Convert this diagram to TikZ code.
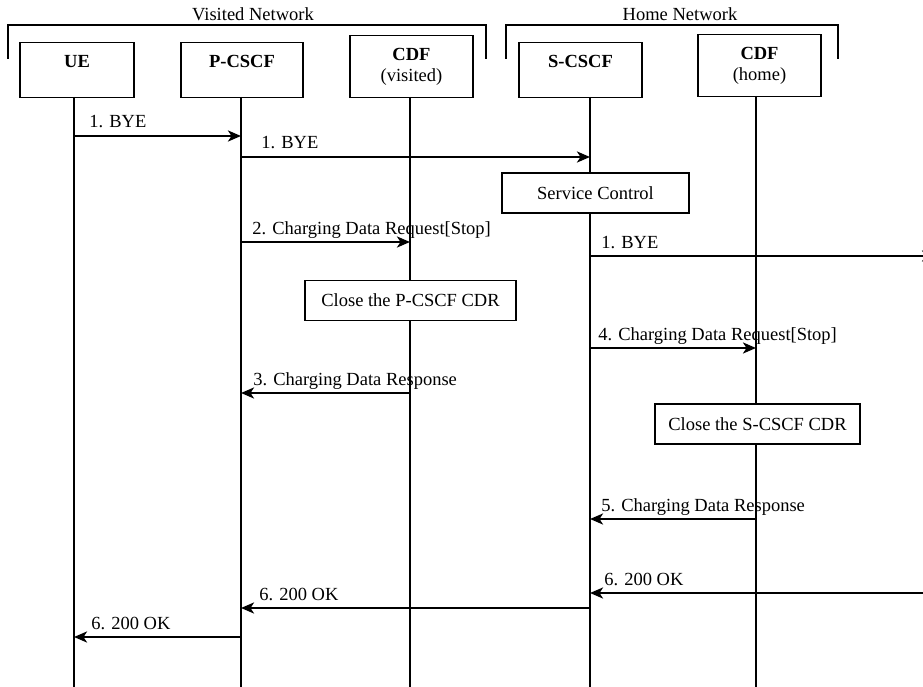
\documentclass[tikz,border=0pt]{standalone}
\usepackage{fontspec}
\setmainfont{Liberation Serif}
\usetikzlibrary{arrows.meta,positioning}

\begin{document}
\begin{tikzpicture}[x=1pt,y=-1pt,font=\fontsize{18.5}{20}\selectfont,
      >={Stealth[length=13pt,width=11pt,inset=3.5pt]},
      ent/.style={draw,line width=1.5pt,anchor=north,inner sep=0pt,align=center},
      single/.style={text height=25pt,text depth=30pt},
      act/.style={draw,line width=1.5pt,fill=white,inner sep=0pt,minimum height=40pt},
      life/.style={line width=1.6pt},
      msg/.style={->,line width=2.6pt},
      lbl/.style={anchor=base west,inner sep=0pt,xshift=#1,yshift=8pt},
      lbl/.default=12pt,
      net/.style={line width=1.8pt}]
  \useasboundingbox (0,0) rectangle (923,687);

  % network brackets
  \draw[net] (8,59) |- (486,25) -- (486,59);
  \draw[net] (506,59) |- (838,25) -- (838,59);
  \node[anchor=base] (visnet) at (253,21) {Visited Network};
  \node[anchor=base] (homenet) at (680,21) {Home Network};

  % entities
  \node[ent,single,minimum width=114pt] (ue) at (77,42) {\textbf{UE}};
  \node[ent,single,minimum width=122pt] (pcscf) at (242,42) {\textbf{P-CSCF}};
  \node[ent,minimum width=123pt,minimum height=62pt] (cdfv) at (411.5,35)
       {\textbf{CDF}\\[1pt](visited)};
  \node[ent,single,minimum width=123pt] (scscf) at (580.5,42) {\textbf{S-CSCF}};
  \node[ent,minimum width=123pt,minimum height=62pt] (cdfh) at (759.5,34)
       {\textbf{CDF}\\[1pt](home)};

  % lifelines
  \coordinate (lue) at (74,97);
  \coordinate (lpc) at (241,97);
  \coordinate (lcv) at (410,97);
  \coordinate (lsc) at (590,97);
  \coordinate (lch) at (756,96);
  \coordinate (far) at (935,0);
  \foreach \l in {lue,lpc,lcv,lsc,lch}
    \draw[life] (\l) -- (\l |- 0,687);

  % actions
  \node[act,minimum width=187pt] (svc) at (595.5,193) {Service Control};
  \node[act,minimum width=211pt] (closep) at (410.5,300.5) {Close the P-CSCF CDR};
  \node[act,minimum width=205pt] (closes) at (757.5,424) {Close the S-CSCF CDR};

  % messages
  \draw[msg] (lue |- 0,136) -- (lpc |- 0,136) node[lbl=14pt,at start] (m1) {1. BYE};
  \draw[msg] (lpc |- 0,157) -- (lsc |- 0,157) node[lbl=19pt,at start] (m2) {1. BYE};
  \draw[msg] (lpc |- 0,242) -- (lcv |- 0,242) node[lbl=10pt,at start] (m3) {2. Charging Data Request[Stop]};
  \draw[msg] (lsc |- 0,256) -- (far |- 0,256) node[lbl=10pt,at start] (m4) {1. BYE};
  \draw[msg] (lsc |- 0,348) -- (lch |- 0,348) node[lbl=7pt,at start] (m5) {4. Charging Data Request[Stop]};
  \draw[msg] (lcv |- 0,393) -- (lpc |- 0,393) node[lbl=11pt,at end] (m6) {3. Charging Data Response};
  \draw[msg] (lch |- 0,519) -- (lsc |- 0,519) node[lbl=10pt,at end] (m7) {5. Charging Data Response};
  \draw[msg] (far |- 0,593) -- (lsc |- 0,593) node[lbl=13pt,at end] (m8) {6. 200 OK};
  \draw[msg] (lsc |- 0,608) -- (lpc |- 0,608) node[lbl=17pt,at end] (m9) {6. 200 OK};
  \draw[msg] (lpc |- 0,637) -- (lue |- 0,637) node[lbl=16pt,at end] (m10) {6. 200 OK};
\end{tikzpicture}
\end{document}
